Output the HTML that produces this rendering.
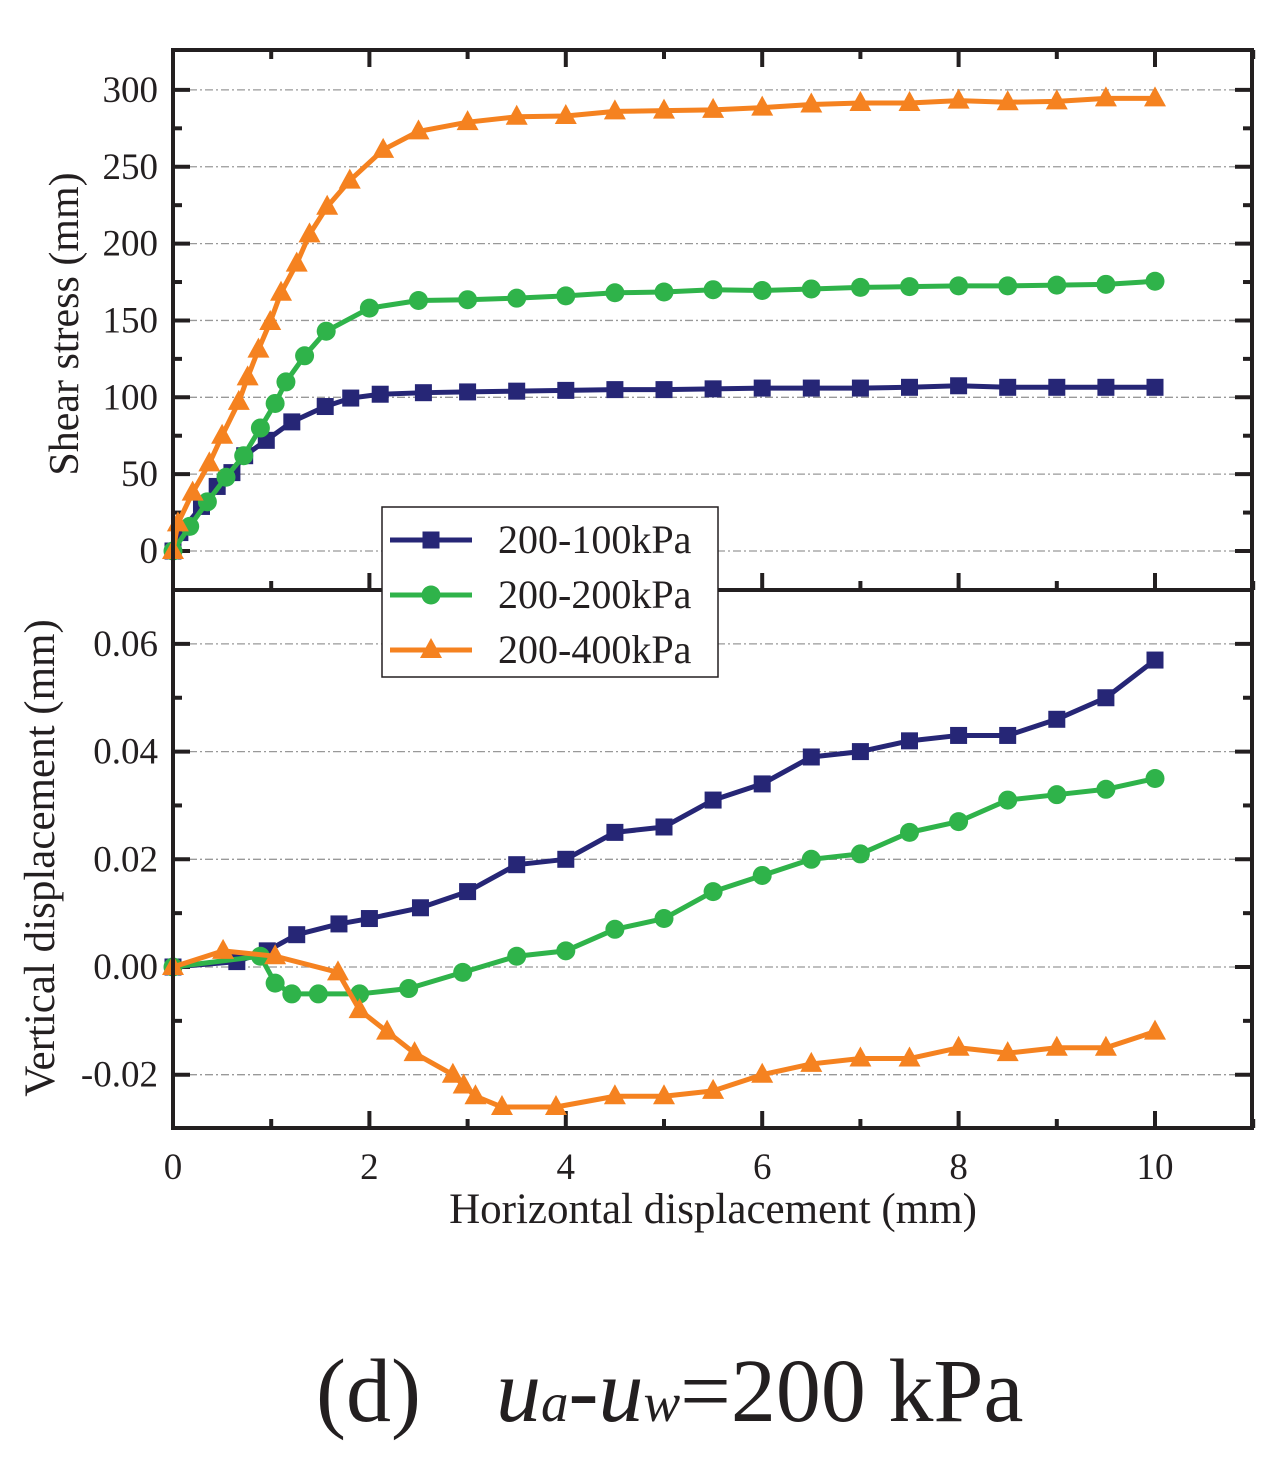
<!DOCTYPE html>
<html><head><meta charset="utf-8">
<style>
html,body{margin:0;padding:0;background:#fff;}
svg text{font-family:"Liberation Serif",serif;fill:#231f20;}
</style></head>
<body>
<svg id="chart" width="1288" height="1455" viewBox="0 0 1288 1455" xmlns="http://www.w3.org/2000/svg">
<g id="topPanel"></g>
<g id="botPanel"></g>
<g id="seriesLayer"></g>
<g id="frameLayer"></g>
<text transform="translate(78,324) rotate(-90)" text-anchor="middle" font-size="42">Shear stress (mm)</text>
<text transform="translate(54,858) rotate(-90)" text-anchor="middle" font-size="43">Vertical displacement (mm)</text>
<text x="713" y="1223" text-anchor="middle" font-size="43">Horizontal displacement (mm)</text>
<g>
<rect x="382" y="507" width="336" height="170" fill="#fff" stroke="#231f20" stroke-width="1.5"/>
<g id="legend-entries"></g>
</g>
<text y="1421" font-size="90"><tspan x="316">(d)</tspan><tspan x="496" font-style="italic">u</tspan><tspan font-style="italic" font-size="55">a</tspan><tspan>-</tspan><tspan font-style="italic">u</tspan><tspan font-style="italic" font-size="55">w</tspan><tspan>=200 kPa</tspan></text>
</svg>
<script>
const seriesNames = ["200-100kPa","200-200kPa","200-400kPa"];
const seriesColors = ["#262676","#2fb34a","#f58220"];
const xTicks = [0,2,4,6,8,10];
const topTicks = [0,50,100,150,200,250,300];
const botTicks = [-0.02,0,0.02,0.04,0.06];
const botTickLabels = ["-0.02","0.00","0.02","0.04","0.06"];

const tauX1 = [0,0.07,0.29,0.45,0.6,0.73,0.95,1.21,1.55,1.81,2.11,2.55,3,3.5,4,4.5,5,5.5,6,6.5,7,7.5,8,8.5,9,9.5,10];
const tauY1 = [0,12,29,42,51,62,72,84,94,99.5,102,103,103.5,104,104.5,105,105,105.5,106,106,106,106.5,107.5,106.5,106.5,106.5,106.5];
const tauX2 = [0,0.17,0.35,0.54,0.72,0.89,1.04,1.15,1.34,1.56,2.0,2.5,3,3.5,4,4.5,5,5.5,6,6.5,7,7.5,8,8.5,9,9.5,10];
const tauY2 = [0,16,32,48,62,80,96,110,127,143,158,163,163.5,164.5,166,168,168.5,170,169.5,170.5,171.5,172,172.5,172.5,173,173.5,175.5];
const tauX3 = [0,0.05,0.2,0.37,0.5,0.67,0.76,0.87,0.99,1.1,1.26,1.39,1.57,1.8,2.14,2.5,3,3.5,4,4.5,5,5.5,6,6.5,7,7.5,8,8.5,9,9.5,10];
const tauY3 = [0,18,38,57,75,97,113,131,149,168,187,206,224,241,261,273,279,282.5,283,286,286.5,287,288.5,290.5,291.5,291.5,293,292,292.5,294.5,294.5];

const vX1 = [0,0.65,0.96,1.26,1.69,2.0,2.52,3,3.5,4,4.5,5,5.5,6,6.5,7,7.5,8,8.5,9,9.5,10];
const vY1 = [0,0.001,0.003,0.006,0.008,0.009,0.011,0.014,0.019,0.020,0.025,0.026,0.031,0.034,0.039,0.040,0.042,0.043,0.043,0.046,0.050,0.057];
const vX2 = [0,0.89,1.04,1.21,1.48,1.9,2.4,2.95,3.5,4,4.5,5,5.5,6,6.5,7,7.5,8,8.5,9,9.5,10];
const vY2 = [0,0.002,-0.003,-0.005,-0.005,-0.005,-0.004,-0.001,0.002,0.003,0.007,0.009,0.014,0.017,0.020,0.021,0.025,0.027,0.031,0.032,0.033,0.035];
const vX3 = [0,0.51,1.04,1.68,1.9,2.18,2.46,2.85,2.96,3.08,3.35,3.9,4.5,5,5.5,6,6.5,7,7.5,8,8.5,9,9.5,10];
const vY3 = [0,0.003,0.002,-0.001,-0.008,-0.012,-0.016,-0.020,-0.022,-0.024,-0.026,-0.026,-0.024,-0.024,-0.023,-0.020,-0.018,-0.017,-0.017,-0.015,-0.016,-0.015,-0.015,-0.012];

const NS="http://www.w3.org/2000/svg";
const L=173, R=1252, T1=50, B1=590, T2=590, B2=1128;
const xs = v => 173 + 98.2*v;
const yTop = v => 551 - 1.537*v;
const yBot = v => 967 - 5385*v;
function mk(tag, attrs, parent){const e=document.createElementNS(NS,tag);for(const k in attrs)e.setAttribute(k,attrs[k]);parent.appendChild(e);return e;}
const topG=document.getElementById('topPanel'), botG=document.getElementById('botPanel'), serG=document.getElementById('seriesLayer'), frameG=document.getElementById('frameLayer');

topTicks.forEach(t=>{
  const y=yTop(t);
  const g=mk('line',{x1:L,x2:R,y1:y,y2:y,stroke:'#999','stroke-width':1.3,'stroke-dasharray':'8 3 2 3'},topG);
  
  
  const tx=mk('text',{x:158,y:y+12,'text-anchor':'end','font-size':37},topG);
  tx.textContent=t;
  
  
});
for(let t=-25;t<=325;t+=25){
  const y=yTop(t); if(y<T1+2||y>B1-2) continue;
  const len=(t%50===0)?17:9;
  mk('line',{x1:L,x2:L+len,y1:y,y2:y,stroke:'#231f20','stroke-width':4},topG);
  mk('line',{x1:R,x2:R-len,y1:y,y2:y,stroke:'#231f20','stroke-width':4},topG);
}
botTicks.forEach((t,i)=>{
  const y=yBot(t);
  const g=mk('line',{x1:L,x2:R,y1:y,y2:y,stroke:'#999','stroke-width':1.3,'stroke-dasharray':'8 3 2 3'},botG);
  
  
  const tx=mk('text',{x:158,y:y+12,'text-anchor':'end','font-size':37},botG);
  tx.textContent=botTickLabels[i];
  
  
});
for(let k=-3;k<=7;k++){
  const t=k*0.01, y=yBot(t); if(y<T2+2||y>B2-2) continue;
  const len=(k%2===0)?17:9;
  mk('line',{x1:L,x2:L+len,y1:y,y2:y,stroke:'#231f20','stroke-width':4},botG);
  mk('line',{x1:R,x2:R-len,y1:y,y2:y,stroke:'#231f20','stroke-width':4},botG);
}
for(let v=1;v<=11;v++){
  const x=xs(v); const len=(v%2===0)?17:9;
  mk('line',{x1:x,x2:x,y1:B2,y2:B2-len,stroke:'#231f20','stroke-width':4},botG);
  mk('line',{x1:x,x2:x,y1:B1,y2:B1-len,stroke:'#231f20','stroke-width':4},topG);
  mk('line',{x1:x,x2:x,y1:T1,y2:T1+len,stroke:'#231f20','stroke-width':4},topG);
}
xTicks.forEach(t=>{
  const tx=mk('text',{x:xs(t),y:1179,'text-anchor':'middle','font-size':37},botG);
  tx.textContent=t;
  
  
});

function marker(kind,x,y,color,parent){
  let m;
  if(kind===0) m=mk('rect',{x:x-8.5,y:y-8.5,width:17,height:17,fill:color},parent);
  else if(kind===1) m=mk('circle',{cx:x,cy:y,r:9.5,fill:color},parent);
  else m=mk('polygon',{points:`${x},${y-12} ${x-11},${y+8} ${x+11},${y+8}`,fill:color},parent);
  return m;
}
function drawSeries(xa,ya,yf,i,name){
  const g=mk('g',{},serG);
  
  
  const pts=xa.map((v,j)=>xs(v)+','+yf(ya[j])).join(' ');
  mk('polyline',{points:pts,fill:'none',stroke:seriesColors[i],'stroke-width':5,'stroke-linejoin':'round'},g);
  xa.forEach((v,j)=>{
    const m=marker(i,xs(v),yf(ya[j]),seriesColors[i],g);
    
    
  });
}
drawSeries(tauX1,tauY1,yTop,0,'shear-series-100kpa');
drawSeries(tauX2,tauY2,yTop,1,'shear-series-200kpa');
drawSeries(tauX3,tauY3,yTop,2,'shear-series-400kpa');
drawSeries(vX1,vY1,yBot,0,'vertical-series-100kpa');
drawSeries(vX2,vY2,yBot,1,'vertical-series-200kpa');
drawSeries(vX3,vY3,yBot,2,'vertical-series-400kpa');

const f1=mk('rect',{x:L,y:T1,width:R-L,height:B1-T1,fill:'none',stroke:'#231f20','stroke-width':4},frameG);


const f2=mk('rect',{x:L,y:T2,width:R-L,height:B2-T2,fill:'none',stroke:'#231f20','stroke-width':4},frameG);



const le=document.getElementById('legend-entries');
seriesNames.forEach((n,i)=>{
  const y=540+55*i;
  const g=mk('g',{},le);
  
  
  mk('line',{x1:390,x2:472,y1:y,y2:y,stroke:seriesColors[i],'stroke-width':5},g);
  marker(i,431,y,seriesColors[i],g);
  const t=mk('text',{x:498,y:y+13,'font-size':40},g);
  t.textContent=n;
});
</script>
</body></html>
